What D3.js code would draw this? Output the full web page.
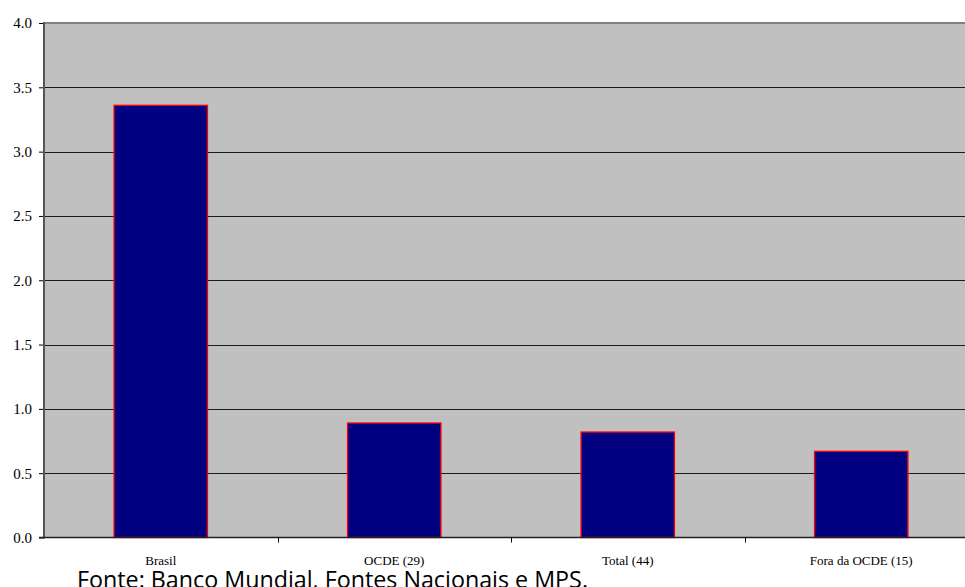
<!DOCTYPE html>
<html>
<head>
  <meta charset="UTF-8"/>
  <title>Brasil vs OCDE</title>
  <style>
    body { margin: 0; background: #fff; overflow: hidden; }
    svg { display: block; }
    .xlab { font-family: 'Liberation Serif', 'Times New Roman', serif; font-size: 13px; fill: #000; }
    .fonte { font-family: 'Open Sans', sans-serif; font-size: 23px; fill: #000; }
  </style>
  <script src="https://d3js.org/d3.v7.min.js"></script>
</head>
<body>
<svg width="965" height="587"></svg>
<script>
var categories = ["Brasil", "OCDE (29)", "Total (44)", "Fora da OCDE (15)"];
var values = [3.36, 0.89, 0.82, 0.67];
var yTicks = [0, 0.5, 1.0, 1.5, 2.0, 2.5, 3.0, 3.5, 4.0];

var svg = d3.select("svg"),
    plotLeft = 44, plotRight = 978, plotTop = 23, plotBottom = 537.5;

var x = d3.scaleBand().domain(categories).range([plotLeft, plotRight]).padding(0);
var y = d3.scaleLinear().domain([0, 4]).range([plotBottom, plotTop]);

// plot background
svg.append("rect")
  .attr("x", plotLeft).attr("y", plotTop)
  .attr("width", plotRight - plotLeft).attr("height", plotBottom - plotTop)
  .attr("fill", "#c0c0c0");

// gridlines
svg.selectAll(".grid")
  .data(yTicks.filter(function(d) { return d > 0 && d < 4; }))
  .enter().append("line")
    .attr("x1", plotLeft).attr("x2", plotRight)
    .attr("y1", function(d) { return Math.round(y(d)) + 0.5; })
    .attr("y2", function(d) { return Math.round(y(d)) + 0.5; })
    .attr("stroke", "#1a1a1a").attr("stroke-width", 1);

// top border
svg.append("line")
  .attr("x1", plotLeft).attr("x2", plotRight)
  .attr("y1", plotTop).attr("y2", plotTop)
  .attr("stroke", "#808080").attr("stroke-width", 2);

// bars
var bw = x.bandwidth() * 0.4;
svg.selectAll(".bar")
  .data(values)
  .enter().append("rect")
    .attr("class", "bar")
    .attr("x", function(d, i) { return x(categories[i]) + x.bandwidth() / 2 - bw / 2; })
    .attr("y", function(d) { return y(d); })
    .attr("width", bw)
    .attr("height", function(d) { return plotBottom - y(d); })
    .attr("fill", "#000080")
    .attr("stroke", "#ff0000")
    .attr("stroke-width", 1.3);

// y axis
var yAxis = svg.append("g")
  .attr("transform", "translate(" + plotLeft + ",0)")
  .call(d3.axisLeft(y).tickValues(yTicks).tickFormat(d3.format(".1f")).tickSize(5).tickPadding(7));
yAxis.attr("font-family", null).attr("font-size", null);
yAxis.select(".domain").remove();
yAxis.selectAll(".tick line").attr("stroke", "#000");
yAxis.selectAll("text")
  .style("font-family", "'Liberation Serif', 'Times New Roman', serif")
  .style("font-size", "15px")
  .attr("fill", "#000");
svg.append("line")
  .attr("x1", plotLeft).attr("x2", plotLeft)
  .attr("y1", plotTop - 1).attr("y2", plotBottom + 1)
  .attr("stroke", "#555").attr("stroke-width", 2);

// x axis
svg.append("line")
  .attr("x1", plotLeft - 5).attr("x2", plotRight)
  .attr("y1", plotBottom).attr("y2", plotBottom)
  .attr("stroke", "#222").attr("stroke-width", 1.5);
svg.selectAll(".xtick")
  .data(categories.slice(1))
  .enter().append("line")
    .attr("x1", function(d) { return Math.round(x(d)) + 0.5; })
    .attr("x2", function(d) { return Math.round(x(d)) + 0.5; })
    .attr("y1", plotBottom).attr("y2", plotBottom + 5)
    .attr("stroke", "#000");
svg.selectAll(".xlab")
  .data(categories)
  .enter().append("text")
    .attr("class", "xlab")
    .attr("x", function(d) { return x(d) + x.bandwidth() / 2; })
    .attr("y", 565)
    .attr("text-anchor", "middle")
    .text(function(d) { return d; });

svg.append("text")
  .attr("class", "fonte")
  .attr("x", 77).attr("y", 588)
  .attr("textLength", 511)
  .attr("lengthAdjust", "spacingAndGlyphs")
  .text("Fonte: Banco Mundial, Fontes Nacionais e MPS.");
</script>
</body>
</html>
